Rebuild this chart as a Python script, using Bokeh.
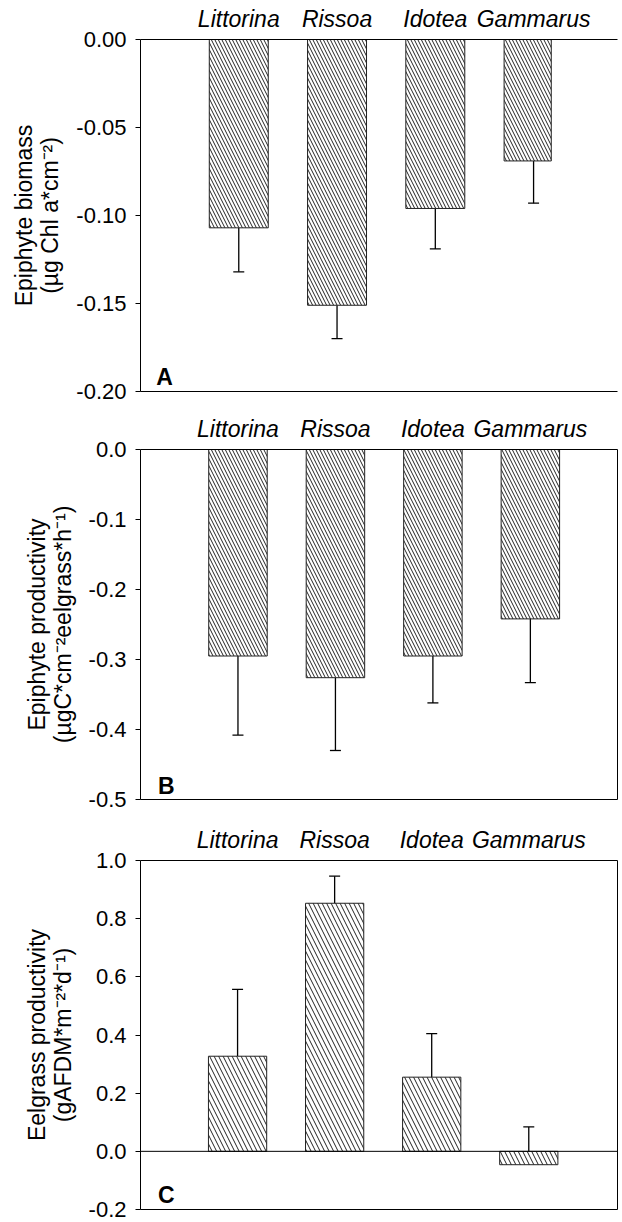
from bokeh.plotting import figure
from bokeh.models import (Range1d, FixedTicker, LinearAxis, Whisker, TeeHead,
                          ColumnDataSource, Label, Span)
from bokeh.layouts import column
from bokeh.embed import file_html
from bokeh.resources import INLINE

# ---------------- data ----------------
species = ["Littorina", "Rissoa", "Idotea", "Gammarus"]
positions = [1, 2, 3, 4]

biomass_mean = [-0.107, -0.151, -0.096, -0.069]
biomass_se = [0.025, 0.019, 0.023, 0.024]

epi_prod_mean = [-0.295, -0.326, -0.295, -0.242]
epi_prod_se = [0.113, 0.104, 0.067, 0.091]

eel_prod_mean = [0.327, 0.853, 0.255, -0.046]
eel_prod_se = [0.230, 0.093, 0.150, 0.130]

biomass_ticks = [0.0, -0.05, -0.10, -0.15, -0.20]
biomass_tick_labels = ["0.00", "-0.05", "-0.10", "-0.15", "-0.20"]
epi_ticks = [0.0, -0.1, -0.2, -0.3, -0.4, -0.5]
epi_tick_labels = ["0.0", "-0.1", "-0.2", "-0.3", "-0.4", "-0.5"]
eel_ticks = [1.0, 0.8, 0.6, 0.4, 0.2, 0.0, -0.2]
eel_tick_labels = ["1.0", "0.8", "0.6", "0.4", "0.2", "0.0", "-0.2"]

FONT = "Liberation Sans"
HALF = 0.3


def make_panel(mean, se, err_dir, ticks, tick_labels, y_lo, y_hi, ylabel, letter,
               letter_xy, height, b_top, b_bottom, b_left, b_right, x_end,
               right_frame, hatch_scale, trim, zero_line):
    p = figure(width=622, height=height, x_range=Range1d(0, x_end),
               y_range=Range1d(y_lo, y_hi), output_backend="svg",
               toolbar_location=None, x_axis_location=None, y_axis_location=None,
               min_border_left=b_left, min_border_right=b_right,
               min_border_top=b_top, min_border_bottom=b_bottom)
    p.grid.visible = False
    p.outline_line_color = None
    p.background_fill_color = "white"
    p.border_fill_color = "white"

    # left axis
    yax = LinearAxis(ticker=FixedTicker(ticks=ticks),
                     major_label_overrides={t: l for t, l in zip(ticks, tick_labels)},
                     axis_label=ylabel)
    yax.axis_line_color = "black"
    yax.axis_line_width = 1
    yax.major_tick_out = 5
    yax.major_tick_in = 0
    yax.minor_tick_out = 0
    yax.minor_tick_in = 0
    yax.major_tick_line_color = "black"
    yax.major_label_standoff = 9
    yax.major_label_text_font = FONT
    yax.major_label_text_font_size = "22px"
    yax.major_label_text_color = "black"
    yax.axis_label_text_font = FONT
    yax.axis_label_text_font_size = "23px"
    yax.axis_label_text_font_style = "normal"
    yax.axis_label_text_color = "black"
    yax.axis_label_text_line_height = 1.0
    yax.axis_label_standoff = 10
    p.add_layout(yax, "left")

    # top axis with species names
    xax = LinearAxis(ticker=FixedTicker(ticks=positions),
                     major_label_overrides={x: s for x, s in zip(positions, species)})
    xax.axis_line_color = "black"
    xax.major_tick_out = 0
    xax.major_tick_in = 0
    xax.minor_tick_out = 0
    xax.minor_tick_in = 0
    xax.major_label_standoff = 8
    xax.major_label_text_font = FONT
    xax.major_label_text_font_style = "italic"
    xax.major_label_text_font_size = "23px"
    xax.major_label_text_color = "black"
    p.add_layout(xax, "above")

    # bottom line
    bax = LinearAxis(ticker=FixedTicker(ticks=[]))
    bax.axis_line_color = "black"
    bax.major_tick_out = 0
    bax.major_tick_in = 0
    bax.minor_tick_out = 0
    bax.minor_tick_in = 0
    bax.major_label_text_font_size = "0px"
    p.add_layout(bax, "below")

    if right_frame:
        rax = LinearAxis(ticker=FixedTicker(ticks=[]))
        rax.axis_line_color = "black"
        rax.major_tick_out = 0
        rax.major_tick_in = 0
        rax.minor_tick_out = 0
        rax.minor_tick_in = 0
        rax.major_label_text_font_size = "0px"
        p.add_layout(rax, "right")

    if zero_line:
        p.add_layout(Span(location=0, dimension="width", line_color="black",
                          line_width=1))

    # bars
    src = ColumnDataSource(dict(
        left=[x - HALF for x in positions],
        right=[x + HALF - t for x, t in zip(positions, trim)],
        top=[max(m, 0) for m in mean],
        bottom=[min(m, 0) for m in mean],
    ))
    p.quad(left="left", right="right", top="top", bottom="bottom", source=src,
           fill_color="white", line_color="#222222", line_width=1,
           hatch_pattern="\\", hatch_color="#222222", hatch_weight=1,
           hatch_scale=hatch_scale)

    # error bars
    ends = [m + err_dir * s for m, s in zip(mean, se)]
    esrc = ColumnDataSource(dict(
        base=positions,
        lower=[min(m, e) for m, e in zip(mean, ends)],
        upper=[max(m, e) for m, e in zip(mean, ends)],
    ))
    head = TeeHead(size=11, line_color="black", line_width=1.3)
    w = Whisker(source=esrc, base="base", lower="lower", upper="upper",
                dimension="height", line_color="black", line_width=1.3,
                lower_head=head if err_dir < 0 else None,
                upper_head=head if err_dir > 0 else None)
    p.add_layout(w)

    p.add_layout(Label(x=letter_xy[0], y=letter_xy[1], text=letter,
                       text_font=FONT, text_font_style="bold",
                       text_font_size="23px", text_color="black",
                       text_baseline="alphabetic"))
    return p


pA = make_panel(biomass_mean, biomass_se, -1, biomass_ticks, biomass_tick_labels,
                -0.2, 0.0, "Epiphyte biomass\n(µg Chl a*cm\u207b\u00b2)", "A",
                (0.16, -0.192), 410, 39, 19, 140, 0, 4.854, False, 7,
                [0, 0, 0, 0.12], False)
pB = make_panel(epi_prod_mean, epi_prod_se, -1, epi_ticks, epi_tick_labels,
                -0.5, 0.0, "Epiphyte productivity\n(µgC*cm\u207b\u00b2eelgrass*h\u207b\u00b9)", "B",
                (0.18, -0.48), 413, 39, 24, 133, 3, 4.894, True, 7,
                [0, 0, 0, 0], False)
pC = make_panel(eel_prod_mean, eel_prod_se, 1, eel_ticks, eel_tick_labels,
                -0.2, 1.0, "Eelgrass productivity\n(gAFDM*m\u207b\u00b2*d\u207b\u00b9)", "C",
                (0.18, -0.149), 399, 36, 13, 129, 5, 4.914, True, 9,
                [0, 0, 0, 0], True)

layout = column(pA, pB, pC, spacing=0)
open("out.html", "w").write(file_html(layout, INLINE))
